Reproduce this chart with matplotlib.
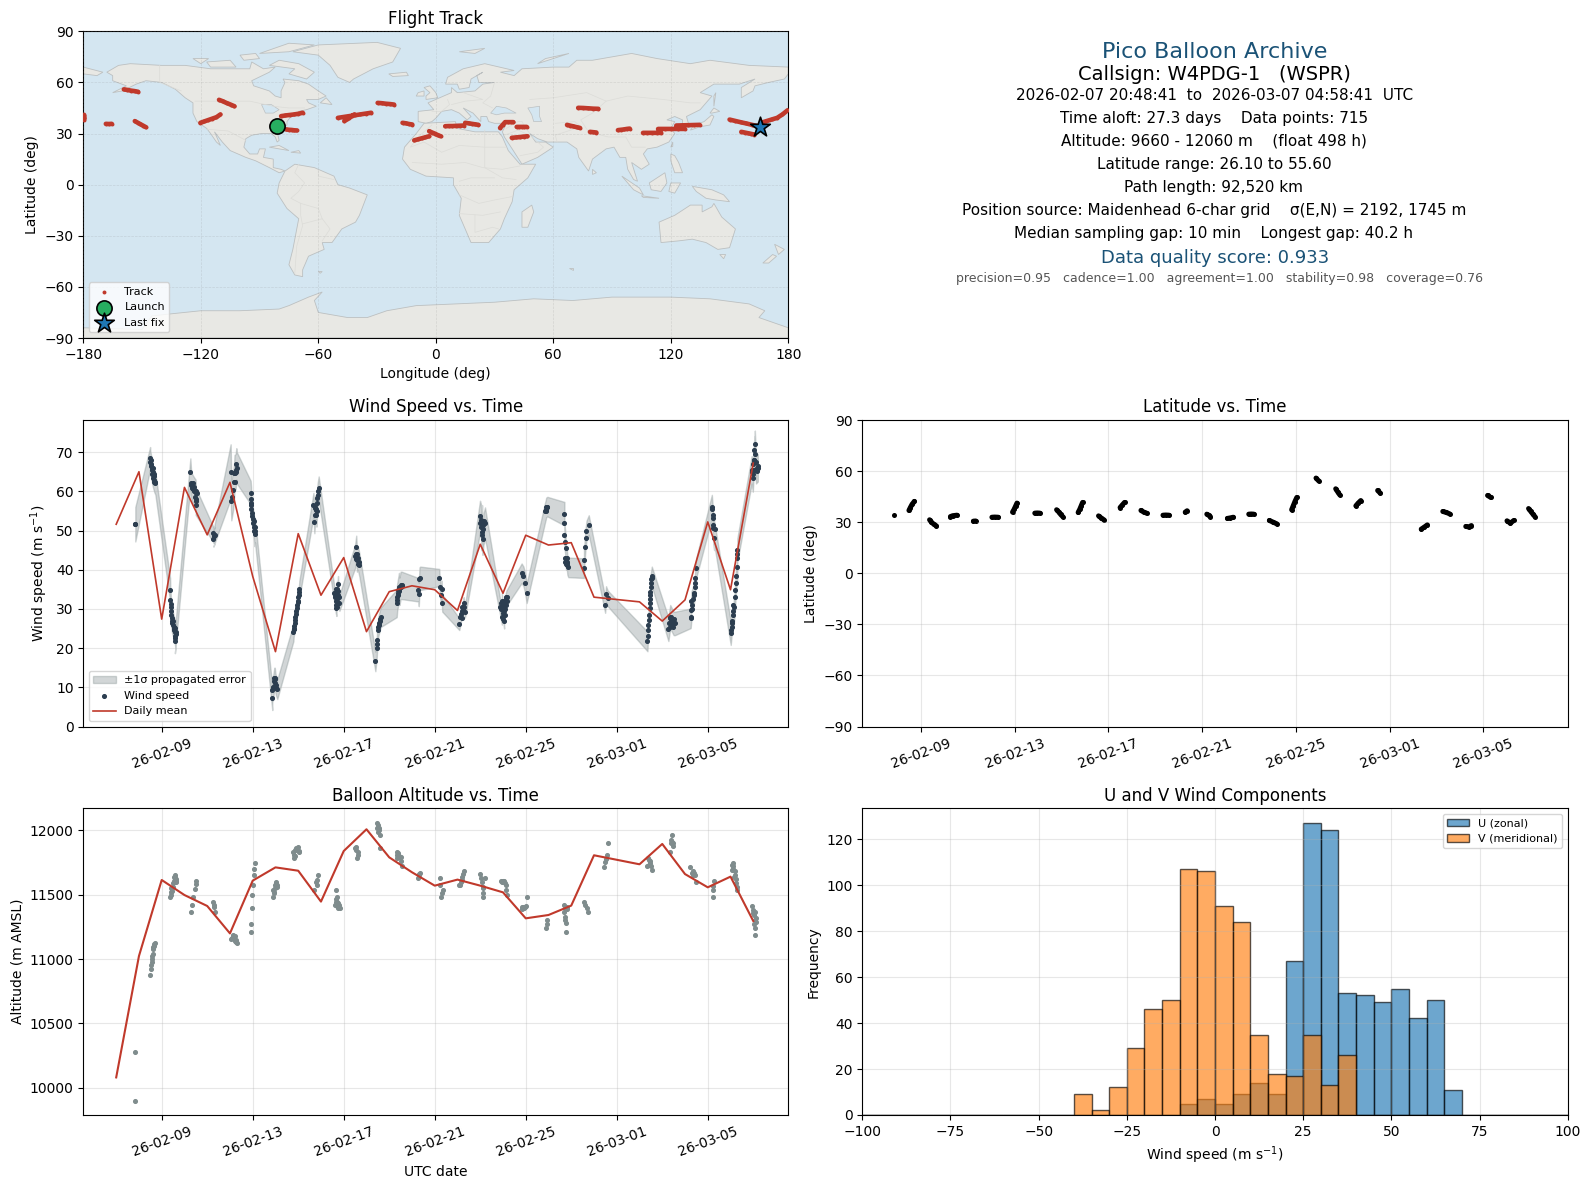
#!/usr/bin/env python3

import numpy as np
import matplotlib
matplotlib.use("Agg")
import matplotlib.pyplot as plt
import matplotlib.dates as mdates

RED = "#c0392b"
NAVY = "#2c3e50"
GREY = "#7f8c8d"
TITLE_BLUE = "#1a5276"
OCEAN = "#d4e6f1"
LAND = "#e8e8e4"
nan = float("nan")

# daily means, there is no row for 03-01 (longest gap)
daily_dates = ["2026-02-07", "2026-02-08", "2026-02-09", "2026-02-10", "2026-02-11", "2026-02-12",
               "2026-02-13", "2026-02-14", "2026-02-15", "2026-02-16", "2026-02-17", "2026-02-18",
               "2026-02-19", "2026-02-20", "2026-02-21", "2026-02-22", "2026-02-23", "2026-02-24",
               "2026-02-25", "2026-02-26", "2026-02-27", "2026-02-28", "2026-03-02", "2026-03-03",
               "2026-03-04", "2026-03-05", "2026-03-06", "2026-03-07"]
daily_wind = [51.6, 65.0, 27.4, 61.0, 48.9, 62.3, 38.3, 19.1, 49.2, 33.5, 43.1, 24.2, 34.4, 35.9,
              34.9, 29.6, 46.5, 34.0, 48.8, 46.3, 46.9, 33.0, 31.8, 26.9, 32.3, 52.2, 34.9, 67.2]
daily_alt = [10080, 11023, 11614, 11497, 11412, 11199, 11609, 11712, 11686, 11446, 11839, 12008,
             11790, 11674, 11570, 11617, 11570, 11518, 11316, 11342, 11415, 11806, 11736, 11894,
             11660, 11557, 11640, 11295]

# all times are days after 2026-02-09 00:00
wind_t = [-1.16, -1.16,
          -0.51, -0.50, -0.47, -0.44, -0.41, -0.37, -0.32, -0.28,
          0.37, 0.38, 0.40, 0.42, 0.45, 0.50, 0.54, 0.58, 0.60, 0.58,
          1.26, 1.29, 1.33, 1.38, 1.43, 1.49, 1.50, 1.49,
          2.24, 2.29, 2.34, 2.27,
          3.03, 3.06, 3.14, 3.18, 3.20, 3.25, 3.28, 3.30,
          3.91, 3.93, 3.93, 3.97, 4.00, 4.05, 4.08, 4.10,
          4.86, 4.86, 4.90, 4.95, 4.97, 5.00, 5.02, 5.08,
          5.79, 5.80, 5.84, 5.88, 5.92, 5.96, 5.99, 6.03, 6.05,
          6.67, 6.71, 6.75, 6.80, 6.80, 6.83, 6.85, 6.90,
          7.58, 7.62, 7.65, 7.68, 7.70, 7.72, 7.75, 7.78, 7.81,
          8.50, 8.55, 8.58, 8.62, 8.66, 8.69,
          9.39, 9.45, 9.47, 9.52, 9.56, 9.63,
          10.33, 10.35, 10.38, 10.43, 10.45, 10.50, 10.55,
          11.28, 11.30, 11.33, 11.36,
          12.20, 12.22, 12.27, 12.30, 12.33,
          13.08, 13.17, 13.20, 13.25, 13.27, 13.33,
          13.99, 14.03, 14.06, 14.08, 14.10, 14.14, 14.21,
          14.87, 14.95, 14.95, 15.05, 15.05, 15.10, 15.15, 15.19,
          15.82, 15.90, 15.97, 16.04,
          16.86, 16.88, 16.90, 16.95,
          17.70, 17.70, 17.70, 17.73, 17.75, 17.77, 17.80, 17.83, 17.87,
          18.56, 18.56, 18.60, 18.63, 18.67, 18.77,
          19.49, 19.53, 19.60,
          21.35, 21.37, 21.40, 21.44, 21.47, 21.47, 21.50, 21.54,
          22.27, 22.35, 22.42, 22.50, 22.56,
          23.25, 23.28, 23.28, 23.40, 23.44, 23.49,
          24.18, 24.22, 24.28, 24.25,
          25.01, 25.05, 25.13, 25.17, 25.20, 25.23, 25.30, 25.30,
          25.93, 25.98, 26.05, 26.05, 26.07, 26.12, 26.20]
wind_v = [51.6, 51.6,
          68.5, 67.5, 66.5, 65.5, 64.5, 63.5, 62.5, 62.0,
          34.9, 32.2, 30.5, 28.5, 27.0, 26.0, 25.0, 24.0, 23.0, 21.7,
          64.9, 62.0, 61.0, 60.5, 60.0, 59.5, 58.0, 57.5,
          49.3, 48.7, 48.9, 47.9,
          65.0, 57.6, 60.3, 62.5, 64.8, 65.0, 67.0, 66.0,
          59.7, 58.0, 56.5, 54.5, 53.0, 51.0, 49.0, 50.0,
          7.2, 9.3, 10.0, 12.5, 12.5, 11.0, 10.5, 9.5,
          24.0, 25.0, 26.5, 28.0, 29.5, 31.0, 32.0, 33.5, 35.0,
          56.6, 52.3, 56.0, 55.5, 54.0, 57.0, 59.0, 60.8,
          34.0, 33.0, 31.0, 30.2, 35.0, 34.5, 36.4, 33.0, 31.5,
          43.4, 45.7, 42.5, 43.0, 42.0, 41.2,
          16.6, 20.0, 22.0, 25.5, 26.5, 27.9,
          31.4, 33.0, 34.0, 35.7, 34.5, 36.0, 36.0,
          34.9, 33.7, 37.6, 37.8,
          38.0, 35.7, 33.6, 35.0, 31.5,
          26.1, 28.7, 29.5, 30.0, 31.5, 29.3,
          53.6, 52.8, 48.9, 52.5, 47.8, 50.3, 51.9,
          30.6, 28.0, 32.0, 27.0, 29.5, 31.4, 32.7, 33.1,
          39.1, 38.3, 36.6, 34.0,
          54.9, 55.3, 55.9, 56.1,
          54.3, 51.9, 48.8, 47.2, 45.5, 42.5, 43.0, 41.2, 40.6,
          40.4, 42.5, 45.7, 48.0, 50.0, 51.4,
          31.0, 33.8, 32.7,
          21.7, 24.6, 27.2, 30.2, 32.5, 34.4, 36.6, 38.3,
          24.8, 28.0, 27.2, 26.3, 26.3,
          27.6, 29.7, 31.9, 34.0, 36.6, 40.4,
          56.1, 53.1, 48.0, 50.6,
          23.8, 26.3, 28.4, 30.6, 33.0, 36.6, 40.8, 45.0,
          65.5, 63.4, 70.6, 68.0, 72.0, 65.5, 66.0]
wind_err = [4.4, 4.4,
            2.8, 2.8, 2.8, 2.8, 2.8, 2.8, 2.8, 2.8,
            3.0, 3.0, 3.0, 3.0, 3.0, 3.0, 3.0, 3.0, 3.0, 3.0,
            3.5, 3.5, 3.5, 3.5, 3.5, 3.5, 3.5, 3.5,
            2.0, 2.0, 2.0, 2.0,
            7.0, 5.0, 5.0, 4.5, 4.5, 4.5, 4.0, 4.0,
            3.0, 3.0, 3.0, 3.0, 3.0, 3.0, 3.0, 3.0,
            3.0, 3.0, 3.0, 2.5, 2.5, 2.5, 2.5, 2.5,
            2.2, 2.2, 2.2, 2.2, 2.2, 2.2, 2.2, 2.2, 2.2,
            3.0, 3.0, 3.0, 3.0, 3.0, 3.0, 3.0, 3.0,
            2.0, 2.0, 2.0, 2.0, 2.0, 2.0, 2.0, 2.0, 2.0,
            3.0, 3.0, 3.0, 3.0, 3.0, 3.0,
            2.5, 2.5, 2.5, 2.5, 2.5, 2.5,
            3.5, 3.5, 3.5, 3.5, 3.5, 3.5, 3.5,
            3.0, 3.0, 3.0, 3.0,
            2.2, 2.2, 2.2, 2.2, 2.2,
            1.5, 1.5, 1.5, 1.5, 1.5, 1.5,
            4.0, 4.0, 4.0, 4.0, 4.0, 4.0, 4.0,
            2.0, 2.0, 2.0, 2.0, 2.0, 2.0, 2.0, 2.0,
            2.5, 2.5, 2.5, 2.5,
            2.5, 2.5, 2.5, 2.5,
            3.0, 3.0, 3.0, 3.0, 3.0, 2.5, 2.5, 2.5, 2.5,
            2.5, 2.5, 2.5, 2.5, 2.5, 2.5,
            2.0, 2.0, 2.0,
            2.5, 2.5, 2.5, 2.5, 2.5, 2.5, 2.5, 2.5,
            3.0, 3.0, 3.0, 3.0, 3.0,
            2.5, 2.5, 2.5, 2.5, 2.5, 2.5,
            3.0, 3.0, 3.0, 3.0,
            3.0, 3.0, 3.0, 3.0, 3.0, 3.0, 3.0, 3.0,
            3.5, 3.5, 3.5, 3.5, 3.5, 3.5, 3.5]
# more dots inside the dense clusters, only drawn as dots
more_wind_t = [-0.49, -0.46, -0.43, -0.40, -0.36, -0.33, -0.30, -0.34, -0.39,
               0.39, 0.41, 0.44, 0.47, 0.52, 0.56, 0.62, 0.58, 0.60, 0.64, 0.50,
               1.30, 1.35, 1.40, 1.45, 1.52, 1.54, 1.50, 1.47, 1.36,
               3.10, 3.27, 3.22, 3.16,
               3.92, 3.94, 3.99, 4.02, 4.06, 4.04, 4.10,
               4.92, 4.98, 5.00, 5.04, 4.88,
               5.80, 5.82, 5.86, 5.90, 5.94, 6.01, 6.04, 6.00,
               6.72, 6.77, 6.82, 6.88, 6.74, 6.83,
               7.60, 7.66, 7.70, 7.74, 7.68, 7.64, 7.76, 7.72,
               8.52, 8.58, 8.60, 8.64, 8.55,
               9.46, 9.50, 9.58, 9.60, 9.54,
               10.34, 10.37, 10.40, 10.48, 10.52, 10.58, 10.42,
               13.12, 13.22, 13.30, 13.20,
               14.00, 14.05, 14.12, 14.18, 14.08, 14.15,
               14.90, 15.00, 15.05, 15.10, 15.15, 15.00, 15.12, 14.97, 14.93, 15.02, 15.08, 15.18,
               16.87, 16.92,
               17.74, 17.80, 17.78, 17.72, 17.82,
               21.36, 21.38, 21.42, 21.45, 21.45, 21.49, 21.52, 21.56,
               22.30, 22.35, 22.40, 22.45, 22.48, 22.38, 22.43, 22.52, 22.33,
               23.27, 23.30, 23.35, 23.38, 23.42, 23.45, 23.30,
               24.20, 24.25, 24.30, 24.22,
               25.03, 25.05, 25.08, 25.10, 25.12, 25.20, 25.25, 25.28, 25.30,
               25.95, 25.98, 26.02, 26.06, 26.10, 26.15, 26.18, 26.20, 26.00, 26.05]
more_wind_v = [68.0, 67.0, 66.0, 65.0, 64.0, 63.0, 62.5, 64.5, 66.0,
               31.2, 29.5, 27.8, 26.5, 25.5, 24.5, 24.0, 22.5, 25.2, 23.5, 27.0,
               61.5, 60.8, 61.0, 60.0, 60.2, 59.5, 56.5, 58.5, 62.0,
               58.5, 65.5, 62.5, 64.8,
               57.0, 55.5, 53.8, 52.0, 50.0, 52.5, 51.0,
               11.5, 12.2, 10.0, 9.8, 9.8,
               24.8, 25.7, 27.2, 28.8, 30.2, 33.0, 34.3, 31.8,
               55.7, 55.2, 58.3, 60.0, 54.0, 55.0,
               33.5, 34.0, 32.5, 33.5, 32.0, 35.0, 34.5, 30.5,
               44.0, 44.0, 43.0, 41.5, 42.8,
               21.0, 24.5, 26.8, 27.3, 25.8,
               32.2, 33.5, 34.8, 35.7, 35.5, 35.8, 35.0,
               28.0, 30.5, 30.5, 27.8,
               52.0, 51.0, 51.5, 52.5, 49.5, 52.0,
               30.0, 31.0, 32.0, 30.0, 31.0, 29.0, 33.0, 30.5, 31.5, 27.5, 28.5, 32.0,
               55.0, 56.0,
               42.0, 42.0, 41.5, 43.0, 41.8,
               23.0, 26.0, 28.5, 31.5, 33.5, 35.5, 37.6, 38.0,
               26.5, 25.5, 28.0, 26.0, 25.5, 27.0, 27.0, 27.5, 27.8,
               28.0, 30.0, 32.5, 33.5, 35.5, 38.0, 31.0,
               55.5, 51.5, 50.5, 54.0,
               24.5, 25.5, 27.0, 29.5, 31.0, 34.8, 38.5, 43.0, 44.0,
               65.0, 67.0, 68.0, 69.5, 67.5, 66.0, 65.3, 66.5, 64.5, 65.5]

alt_t = [-1.16, -1.16,
         -0.50, -0.47, -0.44, -0.42, -0.40, -0.37, -0.34, -0.29,
         0.38, 0.40, 0.43, 0.50, 0.55, 0.60, 0.65, 0.62,
         1.27, 1.31, 1.38, 1.47, 1.50, 1.49,
         2.24, 2.31, 2.34, 2.30,
         3.03, 3.15, 3.30, 3.14, 3.25, 3.20,
         3.91, 3.93, 3.95, 3.98, 4.03, 4.07, 4.10, 4.05,
         4.90, 4.87, 5.00, 5.06, 5.02, 4.92,
         5.83, 5.79, 5.93, 6.00, 6.05, 5.90,
         6.71, 6.81, 6.84, 6.85, 6.80,
         7.68, 7.69, 7.62, 7.77, 7.82, 7.70, 7.75,
         8.53, 8.64, 8.60, 8.50,
         9.48, 9.45, 9.60, 9.60, 9.55,
         10.36, 10.33, 10.48, 10.55, 10.40,
         11.33, 11.28, 11.36, 11.30,
         12.23, 12.23, 12.35, 12.26, 12.33,
         13.30, 13.26, 13.11, 13.18, 13.08,
         13.99, 14.06, 14.21, 14.14, 14.14, 14.10,
         14.90, 15.05, 15.12, 15.14, 15.17, 15.00,
         15.82, 15.97, 15.90, 16.04, 15.85,
         16.92, 16.92, 16.88,
         17.70, 17.83, 17.70, 17.73, 17.75, 17.76, 17.78,
         18.57, 18.60, 18.68, 18.75,
         19.46, 19.49, 19.56, 19.60, 19.52,
         21.39, 21.35, 21.47, 21.54, 21.45,
         22.42, 22.37, 22.49, 22.32, 22.40,
         23.24, 23.30, 23.45, 23.47, 23.35,
         24.28, 24.22, 24.22, 24.25,
         25.13, 25.05, 25.20, 25.25, 25.30, 25.10, 25.15,
         25.96, 26.08, 26.08, 26.08, 26.08, 26.00, 26.12]
alt_m = [10275, 9896,
         10873, 10925, 10975, 11000, 11040, 11075, 11100, 11122,
         11479, 11520, 11549, 11590, 11640, 11653, 11606, 11620,
         11363, 11420, 11479, 11541, 11606, 11580,
         11446, 11402, 11363, 11420,
         11155, 11174, 11122, 11187, 11150, 11180,
         11210, 11269, 11394, 11497, 11575, 11653, 11749, 11700,
         11484, 11536, 11575, 11575, 11601, 11520,
         11782, 11834, 11847, 11868, 11834, 11860,
         11536, 11575, 11614, 11653, 11600,
         11536, 11484, 11420, 11433, 11394, 11440, 11400,
         11868, 11834, 11782, 11860,
         12060, 12016, 11964, 11866, 12020,
         11834, 11782, 11795, 11725, 11820,
         11658, 11632, 11665, 11650,
         11627, 11575, 11536, 11479, 11510,
         11687, 11658, 11575, 11614, 11575,
         11658, 11601, 11627, 11549, 11479, 11510,
         11606, 11606, 11575, 11536, 11497, 11610,
         11407, 11407, 11394, 11479, 11390,
         11301, 11269, 11238,
         11420, 11407, 11368, 11329, 11277, 11207, 11395,
         11446, 11420, 11394, 11363,
         11718, 11756, 11808, 11899, 11780,
         11782, 11723, 11743, 11692, 11760,
         11964, 11925, 11899, 11834, 11900,
         11718, 11666, 11653, 11601, 11680,
         11606, 11536, 11479, 11570,
         11749, 11692, 11653, 11588, 11536, 11720, 11640,
         11415, 11363, 11304, 11238, 11187, 11360, 11290]
more_alt_t = [-0.45, -0.43, -0.38, -0.32,
              0.45, 0.48, 0.52, 0.57, 0.60, 0.63, 0.42,
              3.08, 3.12, 3.18, 3.22, 3.28,
              4.94, 4.98, 5.03, 5.05,
              5.82, 5.87, 5.96, 6.02, 5.85,
              7.65, 7.67, 7.72, 7.80, 7.74,
              8.56, 8.62,
              9.50, 9.52, 9.57,
              10.34, 10.44, 10.50, 10.52,
              13.15, 13.22,
              14.02, 14.12,
              14.95, 15.02, 15.08,
              15.88, 15.93, 15.99,
              17.72, 17.80, 17.74,
              21.41, 21.43, 21.50,
              22.44, 22.46,
              23.33, 23.40,
              25.12, 25.18, 25.22, 25.27, 25.08,
              25.98, 26.03, 26.05, 26.10]
more_alt_m = [10950, 11020, 11090, 11115,
              11530, 11560, 11610, 11635, 11630, 11600, 11500,
              11165, 11175, 11170, 11140, 11130,
              11510, 11550, 11590, 11560,
              11810, 11850, 11855, 11840, 11800,
              11445, 11470, 11415, 11420, 11410,
              11850, 11810,
              12040, 11990, 12000,
              11810, 11800, 11790, 11760,
              11600, 11640,
              11630, 11560,
              11600, 11608, 11590,
              11405, 11400, 11410,
              11400, 11390, 11300,
              11770, 11730, 11720,
              11910, 11880,
              11650, 11670,
              11700, 11680, 11620, 11560, 11730,
              11380, 11340, 11270, 11320]

# nan splits the runs of points, one run per row
lat_t = [-1.16, nan,
         -0.51, -0.45, -0.38, -0.28, nan,
         0.37, 0.45, 0.55, 0.66, nan,
         1.26, 1.36, 1.54, nan,
         2.24, 2.34, nan,
         3.03, 3.15, 3.30, nan,
         3.91, 3.98, 4.04, 4.10, nan,
         4.86, 4.97, 5.08, nan,
         5.79, 5.88, 5.96, 6.05, nan,
         6.71, 6.78, 6.84, 6.90, nan,
         7.58, 7.70, 7.81, nan,
         8.50, 8.60, 8.69, nan,
         9.39, 9.50, 9.63, nan,
         10.33, 10.45, 10.59, nan,
         11.28, 11.36, nan,
         12.20, 12.28, 12.35, nan,
         13.08, 13.20, 13.33, nan,
         13.99, 14.10, 14.21, nan,
         14.87, 15.03, 15.19, nan,
         15.82, 15.89, 15.96, 16.04, nan,
         16.86, 16.97, nan,
         17.70, 17.78, 17.87, nan,
         18.56, 18.66, 18.77, nan,
         19.49, 19.60, nan,
         21.35, 21.48, 21.61, nan,
         22.27, 22.42, 22.56, nan,
         23.25, 23.37, 23.49, nan,
         24.18, 24.32, nan,
         25.01, 25.15, 25.30, nan,
         25.93, 26.02, 26.11, 26.20]
lat_deg = [34.1, nan,
           36.9, 38.6, 40.4, 42.2, nan,
           31.4, 30.0, 28.8, 27.8, nan,
           33.3, 33.8, 34.1, nan,
           30.6, 30.7, nan,
           32.9, 33.0, 32.9, nan,
           35.9, 37.6, 39.4, 41.2, nan,
           35.3, 35.4, 35.3, nan,
           37.3, 36.0, 34.6, 33.3, nan,
           35.7, 37.6, 39.6, 41.6, nan,
           33.7, 32.4, 31.4, nan,
           38.6, 40.2, 41.6, nan,
           36.9, 36.0, 35.3, nan,
           34.1, 34.2, 34.1, nan,
           35.9, 36.7, nan,
           34.7, 34.0, 33.3, nan,
           32.2, 32.5, 32.9, nan,
           34.7, 34.8, 34.7, nan,
           31.0, 30.0, 29.0, nan,
           37.3, 39.7, 42.1, 44.5, nan,
           55.9, 54.3, nan,
           49.6, 47.9, 46.1, nan,
           39.6, 41.2, 42.7, nan,
           48.6, 47.1, nan,
           25.9, 27.1, 28.4, nan,
           36.3, 35.7, 34.9, nan,
           27.5, 27.2, 28.0, nan,
           45.7, 44.5, nan,
           30.8, 29.4, 31.0, nan,
           38.0, 36.4, 34.8, 33.3]

track_lon = [-179.6, -179.8, -179.4, -179.7, nan,
             -168.5, -167.0, -165.5, nan,
             -153.7, -152.3, -150.8, -149.4, -148.0, nan,
             -159.3, -157.5, -155.7, -153.8, -152.0, nan,
             -110.7, -108.7, -106.8, -104.8, -102.8, nan,
             -120.2, -118.2, -116.1, -114.1, -112.0, -110.0, nan,
             -79.0, -76.8, -74.6, -72.4, -70.2, -68.0, nan,
             -76.4, -75.0, -73.6, -72.3, -71.0, nan,
             -50.0, -47.2, -44.3, -41.5, -38.7, -35.8, -33.0, nan,
             -46.7, -45.4, -44.1, -42.9, -41.6, nan,
             -29.7, -27.6, -25.5, -23.4, -21.3, nan,
             -17.0, -15.3, -13.7, -12.0, nan,
             -11.0, -9.1, -7.2, -5.3, -3.4, nan,
             -3.4, -1.9, -0.4, 1.0, 2.5, nan,
             4.8, 6.7, 8.5, 10.4, 12.3, 14.2, nan,
             15.0, 16.7, 18.4, 20.1, 21.8, nan,
             32.8, 34.1, 35.4, 36.8, 38.2, 39.6, nan,
             41.3, 42.6, 43.8, 45.1, 46.4, nan,
             38.8, 40.8, 42.8, 44.8, 46.8, nan,
             67.0, 68.7, 70.3, 72.0, 73.6, nan,
             72.7, 75.3, 77.8, 80.4, 83.0, nan,
             78.7, 80.3, 82.0, nan,
             93.0, 94.5, 96.0, 97.5, 99.0, nan,
             105.8, 108.1, 110.4, 112.7, 115.0, nan,
             113.5, 116.9, 120.3, 123.6, 127.0, nan,
             122.8, 125.8, 128.7, 131.7, 134.7, nan,
             150.0, 152.9, 155.8, 158.6, 161.5, 164.4, nan,
             156.0, 157.7, 159.4, 161.0, 162.7, nan,
             166.0, 168.8, 171.5, 174.3, 177.0, 179.7]
track_lat = [41.0, 40.0, 39.0, 38.0, nan,
             35.7, 35.6, 35.7, nan,
             37.3, 36.4, 35.5, 34.6, 33.7, nan,
             55.9, 55.6, 55.2, 54.9, 54.5, nan,
             49.8, 48.9, 47.9, 47.0, 46.0, nan,
             36.3, 37.1, 38.0, 38.8, 39.6, 41.2, nan,
             40.2, 40.6, 40.9, 41.2, 41.6, 42.2, nan,
             32.4, 32.2, 32.1, 31.9, 31.8, nan,
             39.2, 39.7, 40.2, 40.7, 41.2, 41.7, 42.2, nan,
             37.3, 38.3, 39.3, 40.2, 41.2, nan,
             48.0, 47.8, 47.5, 47.3, 47.0, nan,
             36.3, 36.0, 35.6, 35.3, nan,
             26.0, 26.6, 27.2, 27.8, 28.4, nan,
             31.4, 30.6, 29.9, 29.1, 28.4, nan,
             34.3, 34.4, 34.4, 34.5, 34.6, 34.7, nan,
             36.3, 36.0, 35.7, 35.4, 35.1, nan,
             33.3, 35.0, 36.7, 36.7, 36.7, 36.7, nan,
             33.9, 33.9, 33.9, 33.9, 33.9, nan,
             27.5, 27.7, 27.9, 28.2, 28.4, nan,
             35.1, 34.6, 34.2, 33.7, 33.3, nan,
             45.1, 45.0, 44.8, 44.6, 44.5, nan,
             31.0, 30.8, 30.6, nan,
             32.0, 32.2, 32.4, 32.7, 32.9, nan,
             30.4, 30.4, 30.4, 30.4, 30.4, nan,
             32.7, 32.7, 32.7, 32.7, 32.7, nan,
             34.7, 34.8, 34.9, 35.0, 35.1, nan,
             38.2, 37.4, 36.6, 35.9, 35.1, 34.3, nan,
             31.0, 30.6, 30.2, 29.8, 29.4, nan,
             36.3, 37.3, 38.3, 39.2, 41.2, 43.7]
launch_lon, launch_lat = -81.2, 34.3
last_lon, last_lat = 165.5, 33.8

# coarse coastlines
north_america = [(-168, 66), (-162, 70), (-156, 71), (-140, 70), (-128, 70), (-115, 68), (-108, 68),
                 (-95, 68), (-94, 72), (-88, 68), (-82, 69), (-85, 66), (-94, 61), (-93, 58), (-85, 55),
                 (-82, 52), (-79, 51), (-79, 55), (-77, 60), (-78, 62), (-70, 61), (-65, 59), (-60, 55),
                 (-56, 52), (-60, 50), (-66, 50), (-65, 48), (-61, 46), (-66, 44), (-70, 43), (-71, 41),
                 (-74, 40), (-76, 37), (-76, 35), (-81, 31), (-80, 26), (-81, 25), (-82, 28), (-84, 30),
                 (-89, 30), (-94, 29), (-97, 27), (-98, 22), (-95, 18), (-91, 18), (-90, 21), (-87, 21),
                 (-88, 16), (-83, 15), (-83, 10), (-79, 9), (-77, 8), (-80, 7), (-85, 10), (-92, 14),
                 (-97, 16), (-105, 20), (-109, 25), (-113, 31), (-110, 23), (-112, 25), (-115, 30),
                 (-117, 33), (-122, 37), (-124, 42), (-124, 48), (-128, 51), (-133, 56), (-140, 60),
                 (-148, 61), (-153, 59), (-160, 55), (-165, 54), (-158, 58), (-165, 61), (-165, 64)]
south_america = [(-77, 8), (-72, 12), (-62, 10), (-52, 5), (-50, 0), (-44, -2), (-35, -6), (-37, -12),
                 (-39, -18), (-41, -22), (-48, -26), (-53, -34), (-58, -34), (-57, -38), (-65, -42),
                 (-68, -50), (-68, -54), (-72, -53), (-75, -47), (-73, -38), (-70, -20), (-76, -14),
                 (-81, -5), (-80, 1)]
greenland = [(-73, 78), (-60, 82), (-30, 83.5), (-18, 80), (-22, 72), (-32, 68), (-42, 62), (-44, 60),
             (-50, 63), (-54, 70), (-60, 76)]
eurasia = [(-9, 37), (-9, 43), (-1, 44), (-4, 48), (2, 51), (8, 54), (8, 57), (11, 54), (20, 55), (24, 59),
           (30, 60), (22, 60), (21, 64), (24, 66), (18, 62), (17, 57), (12, 56), (11, 59), (5, 59), (6, 63),
           (14, 68), (25, 71), (40, 67), (33, 66), (40, 64), (44, 68), (60, 69), (68, 69), (72, 73), (80, 73),
           (100, 77), (113, 74), (130, 71), (140, 73), (160, 70), (180, 69), (180, 65), (178, 62), (170, 60),
           (163, 58), (162, 55), (156, 51), (156, 57), (163, 62), (155, 59), (142, 59), (135, 54), (141, 52),
           (135, 44), (128, 40), (129, 36), (126, 34), (126, 38), (122, 40), (118, 38), (122, 37), (120, 33),
           (122, 30), (119, 25), (113, 22), (108, 21), (106, 18), (109, 12), (105, 9), (100, 13), (103, 2),
           (101, 3), (98, 9), (97, 16), (94, 16), (91, 22), (87, 21), (80, 15), (78, 8), (73, 16), (72, 21),
           (67, 25), (57, 25), (52, 27), (48, 30), (51, 25), (56, 25), (60, 22), (52, 16), (44, 12), (39, 21),
           (35, 28), (34, 31), (36, 36), (30, 36), (27, 37), (26, 40), (23, 40), (23, 37), (19, 42), (14, 45),
           (18, 40), (16, 38), (12, 42), (8, 44), (3, 43), (0, 39), (-2, 37), (-5, 36)]
africa = [(-6, 36), (10, 37), (11, 33), (20, 31), (32, 31), (34, 28), (37, 20), (43, 12), (51, 12), (47, 4),
          (40, -3), (39, -10), (35, -20), (33, -26), (27, -34), (18, -34), (12, -18), (13, -8), (9, 0),
          (9, 4), (-5, 5), (-13, 9), (-17, 15), (-16, 22), (-10, 30)]
australia = [(114, -22), (122, -18), (130, -12), (136, -12), (136, -16), (141, -13), (142, -11), (146, -19),
             (153, -26), (150, -37), (144, -38), (138, -34), (131, -32), (124, -33), (115, -34)]
antarctica = [(-180, -90), (-180, -84), (-150, -85), (-145, -77), (-120, -74), (-100, -74), (-80, -73),
              (-75, -71), (-65, -66), (-58, -63), (-62, -68), (-60, -75), (-45, -78), (-35, -78), (-25, -74),
              (-10, -71), (10, -70), (30, -69), (50, -67), (70, -68), (90, -66), (120, -66), (140, -67),
              (160, -70), (168, -74), (165, -78), (180, -84), (180, -90)]
islands = [
    [(-180, 69), (-170, 66), (-173, 64), (-180, 65)],
    [(-80, 73), (-70, 71), (-62, 66), (-66, 62), (-75, 65), (-72, 68), (-85, 70)],
    [(-117, 72), (-105, 73), (-102, 69), (-115, 69)],
    [(-90, 77), (-75, 83), (-62, 82), (-75, 78)],
    [(-124, 74), (-116, 74), (-120, 71)],
    [(-100, 76), (-92, 77), (-90, 74), (-98, 73)],
    [(-59, 48), (-53, 47), (-56, 51)],
    [(-85, 22), (-75, 20), (-80, 23)],
    [(-74, 19), (-69, 18.5), (-70, 20)],
    [(-24, 65), (-15, 66), (-14, 64), (-22, 63.5)],
    [(-5, 50), (1, 51), (0, 54), (-3, 58), (-6, 57), (-3, 54), (-5, 52)],
    [(-10, 52), (-6, 52), (-6, 55), (-9, 54)],
    [(12, 78), (25, 80), (20, 77)],
    [(52, 71), (68, 77), (56, 74)],
    [(44, -16), (49, -12), (50, -16), (47, -25), (44, -25)],
    [(130, 32), (135, 34), (140, 35), (142, 40), (141, 41), (137, 37), (132, 35)],
    [(140, 42), (142, 45), (145, 43), (141, 42)],
    [(142, 46), (143, 54), (142, 52)],
    [(95, 5), (104, -2), (106, -6), (101, -3)],
    [(109, 1), (117, 7), (118, 1), (115, -4), (110, -3)],
    [(105, -6.5), (114, -8), (106, -7.5)],
    [(120, 1), (125, 1), (122, -5), (119, -4)],
    [(131, -1), (141, -3), (147, -6), (150, -10), (143, -9), (138, -8), (133, -4)],
    [(120, 18), (122, 17), (124, 13), (126, 7), (122, 7), (120, 14)],
    [(80, 9), (82, 7), (80, 6)],
    [(121, 25), (120, 22), (121, 22.5)],
    [(145, -41), (148, -41), (147, -43.5)],
    [(173, -35), (178, -38), (175, -41), (174, -38)],
    [(172, -41), (174, -42), (170, -46), (167, -46)],
    [(68, -49), (70, -49), (70, -50)],
    [(-60, -51), (-58, -51), (-59, -52)],
]
inland_water = [
    [(28, 42), (31, 46), (36, 45), (41, 42), (35, 42), (31, 41)],
    [(47, 45), (53, 46), (53, 40), (54, 37), (50, 37), (49, 41)],
    [(-89, 47), (-84, 47), (-80, 44), (-83, 42), (-87, 42)],
]
borders = [
    [(-141, 70), (-141, 60), (-130, 55)],
    [(-123, 49), (-95, 49), (-83, 46), (-75, 45), (-67, 45)],
    [(-117, 32.5), (-106, 31.5), (-97, 26)],
    [(-70, 12), (-72, 7), (-67, 1), (-70, -4), (-74, -8), (-69, -11), (-69, -18), (-68, -24), (-71, -36), (-72, -52)],
    [(-60, 8), (-60, 5), (-52, 3)],
    [(-58, -20), (-54, -26), (-58, -33)],
    [(-69, -11), (-60, -14), (-58, -20), (-68, -23)],
    [(-2, 35), (-9, 28), (-13, 22), (-6, 25), (3, 19), (12, 23), (25, 22), (36, 22)],
    [(25, 32), (25, 10), (34, 4), (41, 3)],
    [(-12, 13), (3, 12), (15, 13), (24, 10), (34, 9), (43, 11)],
    [(12, 2), (18, 4), (30, 4)],
    [(12, -6), (22, -11), (30, -9), (39, -7)],
    [(12, -17), (24, -18), (33, -16)],
    [(20, -18), (20, -28), (29, -25), (32, -26)],
    [(30, 60), (28, 52), (24, 48), (29, 45)],
    [(8, 47), (15, 49), (24, 50), (14, 54)],
    [(-2, 43), (3, 43), (7, 47), (6, 50)],
    [(48, 50), (60, 51), (77, 54), (87, 49), (98, 52), (116, 50), (130, 48), (135, 48)],
    [(87, 49), (80, 42), (74, 38), (78, 31), (88, 28), (97, 28), (100, 22), (107, 22)],
    [(61, 36), (71, 37), (74, 34), (61, 29), (62, 25)],
    [(44, 37), (46, 33), (48, 30)],
    [(36, 33), (42, 37), (44, 37)],
    [(35, 29), (42, 32), (48, 29), (55, 22), (52, 19), (43, 17)],
]

# histogram counts in 5 m/s bins from -100 to 100
hist_edges = [-100, -95, -90, -85, -80, -75, -70, -65, -60, -55, -50, -45, -40, -35, -30, -25, -20, -15, -10, -5, 0,
              5, 10, 15, 20, 25, 30, 35, 40, 45, 50, 55, 60, 65, 70, 75, 80, 85, 90, 95, 100]
u_counts = [0, 0, 0, 0, 0, 0, 0, 0, 0, 0, 0, 0, 0, 0, 0, 0, 0, 0, 5, 7,
            5, 9, 14, 9, 67, 127, 124, 53, 52, 49, 55, 42, 50, 11, 0, 0, 0, 0, 0, 0]
v_counts = [0, 0, 0, 0, 0, 0, 0, 0, 0, 0, 0, 0, 9, 2, 12, 29, 46, 50, 107, 106,
            91, 84, 35, 18, 17, 35, 13, 26, 0, 0, 0, 0, 0, 0, 0, 0, 0, 0, 0, 0]

tick_dates = ["2026-02-09", "2026-02-13", "2026-02-17", "2026-02-21", "2026-02-25", "2026-03-01", "2026-03-05"]

info_lines = [
    (1215, 51.7, "Pico Balloon Archive", 16, TITLE_BLUE),
    (1214, 74.3, "Callsign: W4PDG-1   (WSPR)", 14, "black"),
    (1215, 95.0, "2026-02-07 20:48:41  to  2026-03-07 04:58:41  UTC", 11, "black"),
    (1214, 118.0, "Time aloft: 27.3 days    Data points: 715", 11, "black"),
    (1214, 141.0, "Altitude: 9660 - 12060 m    (float 498 h)", 11, "black"),
    (1214, 164.0, "Latitude range: 26.10 to 55.60", 11, "black"),
    (1214, 187.4, "Path length: 92,520 km", 11, "black"),
    (1214, 210.4, "Position source: Maidenhead 6-char grid    \u03c3(E,N) = 2192, 1745 m", 11, "black"),
    (1214, 233.4, "Median sampling gap: 10 min    Longest gap: 40.2 h", 11, "black"),
    (1215, 257.7, "Data quality score: 0.933", 13, TITLE_BLUE),
    (1219, 278.7, "precision=0.95   cadence=1.00   agreement=1.00   stability=0.98   coverage=0.76", 9, "#555555"),
]

W, H = 1590, 1189
fig = plt.figure(figsize=(W / 100, H / 100), dpi=100)


def add_ax(left, top, right, bottom):
    return fig.add_axes([left / W, 1 - bottom / H, (right - left) / W, (bottom - top) / H])


map_ax = add_ax(83.3, 31.3, 788.3, 338)
wind_ax = add_ax(83.3, 420, 788.3, 726.5)
lat_ax = add_ax(862.3, 420, 1567.7, 726.5)
alt_ax = add_ax(83.3, 808.3, 788.3, 1115)
hist_ax = add_ax(862.3, 808.3, 1567.7, 1115)

# map panel
map_ax.set_facecolor(OCEAN)
for poly in [north_america, south_america, greenland, eurasia, africa, australia, antarctica] + islands:
    map_ax.fill(*zip(*poly), facecolor=LAND, edgecolor="#bcc0c1", linewidth=0.6, zorder=1)
for poly in inland_water:
    map_ax.fill(*zip(*poly), facecolor=OCEAN, edgecolor="#bcc0c1", linewidth=0.5, zorder=1.2)
for line in borders:
    map_ax.plot(*zip(*line), color="#dcdcd8", linewidth=0.5, zorder=1.4)
map_ax.grid(True, color="gray", linestyle="--", linewidth=0.5, alpha=0.2, zorder=1.5)
map_ax.set_axisbelow(False)
map_ax.plot(track_lon, track_lat, color=RED, linewidth=3.3, solid_capstyle="round", zorder=3)
map_ax.scatter(track_lon, track_lat, s=8, color=RED, linewidth=0, label="Track", zorder=3)
map_ax.scatter([launch_lon], [launch_lat], s=120, color="#27ae60", edgecolor="black", linewidth=1.2,
               label="Launch", zorder=5)
map_ax.scatter([last_lon], [last_lat], s=220, marker="*", color="#1f77b4", edgecolor="black", linewidth=1.2,
               label="Last fix", zorder=5)
map_ax.set_xlim(-180, 180)
map_ax.set_ylim(-90, 90)
map_ax.set_xticks(range(-180, 181, 60))
map_ax.set_yticks(range(-90, 91, 30))
map_ax.set_xlabel("Longitude (deg)")
map_ax.set_ylabel("Latitude (deg)")
map_ax.set_title("Flight Track", fontsize=12, pad=5)
map_ax.legend(loc="lower left", fontsize=8)

# summary text, no axes of its own
for x, y, text, size, color in info_lines:
    fig.text(x / W, 1 - y / H, text, fontsize=size, color=color, ha="center", va="center")

# time panels
day0 = mdates.date2num(np.datetime64("2026-02-09"))
daily_x = mdates.date2num(np.array(daily_dates, dtype="datetime64[D]"))
wind_x = day0 + np.array(wind_t)
wind_v = np.array(wind_v)
wind_err = np.array(wind_err)
ticks_x = mdates.date2num(np.array(tick_dates, dtype="datetime64[D]"))

wind_ax.fill_between(wind_x, wind_v - wind_err, wind_v + wind_err, color=GREY, alpha=0.35,
                     label="\u00b11\u03c3 propagated error")
wind_ax.scatter(wind_x, wind_v, s=7, color=NAVY, label="Wind speed", zorder=3)
wind_ax.scatter(day0 + np.array(more_wind_t), more_wind_v, s=7, color=NAVY, zorder=3)
wind_ax.plot(daily_x, daily_wind, color=RED, linewidth=1.2, label="Daily mean", zorder=4)
wind_ax.set_ylim(0, 78.2)
wind_ax.set_ylabel("Wind speed (m s$^{-1}$)")
wind_ax.set_title("Wind Speed vs. Time", fontsize=12)
wind_ax.legend(loc="lower left", fontsize=8)

lat_x = day0 + np.array(lat_t)
lat_ax.plot(lat_x, lat_deg, color="black", linewidth=3.6, solid_capstyle="round")
lat_ax.scatter(lat_x, lat_deg, s=13, color="black", linewidth=0)
lat_ax.set_ylim(-90, 90)
lat_ax.set_yticks(range(-90, 91, 30))
lat_ax.set_ylabel("Latitude (deg)")
lat_ax.set_title("Latitude vs. Time", fontsize=12)

alt_ax.scatter(day0 + np.array(alt_t), alt_m, s=7, color=GREY, zorder=3)
alt_ax.scatter(day0 + np.array(more_alt_t), more_alt_m, s=7, color=GREY, zorder=3)
alt_ax.plot(daily_x, daily_alt, color=RED, linewidth=1.5, zorder=4)
alt_ax.set_ylim(9788, 12171)
alt_ax.set_xlabel("UTC date")
alt_ax.set_ylabel("Altitude (m AMSL)")
alt_ax.set_title("Balloon Altitude vs. Time", fontsize=12, pad=5)

for ax in (wind_ax, lat_ax, alt_ax):
    ax.set_xticks(ticks_x)
    ax.xaxis.set_major_formatter(mdates.DateFormatter("%y-%m-%d"))
    ax.tick_params(axis="x", rotation=20)
    ax.grid(True, alpha=0.3)
wind_ax.set_xlim(day0 - 3.446, day0 + 27.54)
alt_ax.set_xlim(day0 - 3.446, day0 + 27.54)
lat_ax.set_xlim(day0 - 2.50, day0 + 27.60)

# histogram
bin_left = hist_edges[:-1]
hist_ax.hist(bin_left, bins=hist_edges, weights=u_counts, color="tab:blue", alpha=0.65, edgecolor="black",
             label="U (zonal)")
hist_ax.hist(bin_left, bins=hist_edges, weights=v_counts, color="tab:orange", alpha=0.65, edgecolor="black",
             label="V (meridional)")
hist_ax.set_xlim(-100, 100)
hist_ax.set_ylim(0, 133.35)
hist_ax.set_xlabel("Wind speed (m s$^{-1}$)")
hist_ax.set_ylabel("Frequency")
hist_ax.set_title("U and V Wind Components", fontsize=12, pad=5)
hist_ax.legend(loc="upper right", fontsize=8)
hist_ax.grid(True, alpha=0.3)

fig.savefig("out.png", dpi=100)
